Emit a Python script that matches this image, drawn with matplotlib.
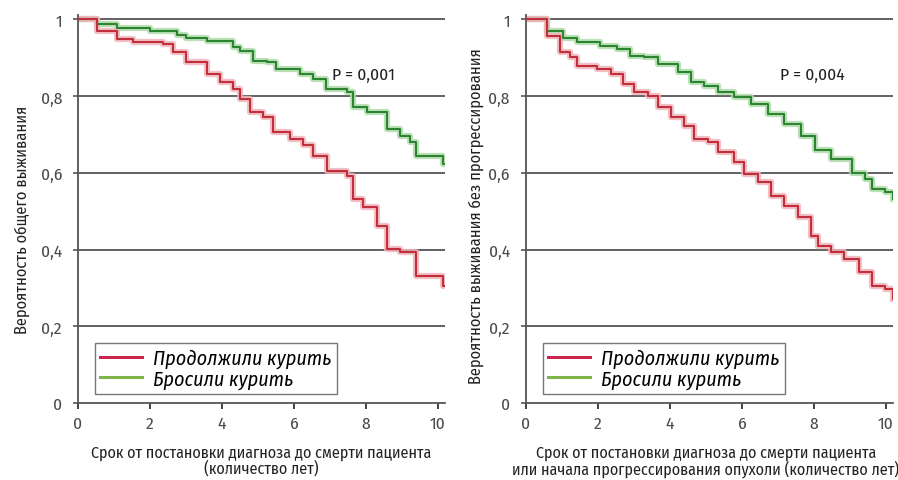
import matplotlib
matplotlib.use("Agg")
import matplotlib.pyplot as plt
from matplotlib import font_manager as fm

names = {f.name for f in fm.fontManager.ttflist}
FONT = "Fira Sans Condensed" if "Fira Sans Condensed" in names else "DejaVu Sans"
FAM = [FONT, "DejaVu Sans"]
plt.rcParams['font.family'] = FAM

# ---------------- data ----------------
x_ticks = [0, 2, 4, 6, 8, 10]
y_ticks = [0, 0.2, 0.4, 0.6, 0.8, 1.0]
y_ticklabels = ["0", "0,2", "0,4", "0,6", "0,8", "1"]
legend_labels = ["Продолжили курить", "Бросили курить"]

# Panel 1: overall survival
os_cont_t = [0, 0.53, 1.08, 1.53, 2.36, 2.65, 3.0, 3.58, 3.94, 4.3, 4.5, 4.78, 5.14, 5.42, 5.89,
             6.25, 6.53, 6.92, 7.47, 7.64, 7.92, 8.3, 8.58, 8.94, 9.4, 10.15, 10.2]
os_cont_s = [1.0, 0.969, 0.948, 0.94, 0.935, 0.914, 0.888, 0.857, 0.836, 0.818, 0.792, 0.758, 0.745,
             0.706, 0.688, 0.674, 0.643, 0.604, 0.591, 0.531, 0.51, 0.461, 0.401, 0.393, 0.331, 0.305, 0.305]
os_quit_t = [0, 0.53, 1.08, 2.0, 2.75, 3.0, 3.58, 4.3, 4.5, 4.87, 5.25, 5.5, 6.17, 6.53, 6.9, 7.47,
             7.64, 8.03, 8.58, 8.94, 9.22, 9.4, 10.15, 10.2]
os_quit_s = [1.0, 0.987, 0.979, 0.969, 0.96, 0.953, 0.943, 0.927, 0.917, 0.891, 0.888, 0.870, 0.857,
             0.844, 0.818, 0.810, 0.773, 0.758, 0.714, 0.695, 0.680, 0.643, 0.622, 0.622]

# Panel 2: progression-free survival
pfs_cont_t = [0, 0.59, 0.95, 1.23, 1.42, 1.98, 2.35, 2.71, 2.99, 3.38, 3.66, 4.02, 4.39, 4.66, 5.06,
              5.34, 5.78, 6.06, 6.45, 6.82, 7.18, 7.57, 7.93, 8.13, 8.49, 8.85, 9.25, 9.61, 9.97, 10.2]
pfs_cont_s = [1.0, 0.956, 0.914, 0.901, 0.878, 0.87, 0.857, 0.831, 0.81, 0.8, 0.773, 0.747, 0.721,
              0.688, 0.680, 0.654, 0.628, 0.596, 0.575, 0.539, 0.513, 0.484, 0.435, 0.409, 0.393,
              0.375, 0.341, 0.305, 0.297, 0.271]
pfs_quit_t = [0, 0.59, 1.03, 1.42, 2.07, 2.54, 2.9, 3.27, 3.66, 4.22, 4.58, 4.94, 5.34, 5.78, 6.26,
              6.73, 7.18, 7.65, 8.02, 8.49, 9.05, 9.41, 9.61, 9.97, 10.2]
pfs_quit_s = [1.0, 0.969, 0.953, 0.94, 0.930, 0.922, 0.904, 0.901, 0.883, 0.862, 0.836, 0.826, 0.81,
              0.797, 0.779, 0.753, 0.727, 0.695, 0.661, 0.635, 0.60, 0.583, 0.557, 0.549, 0.531]

p_values = ["P = 0,001", "P = 0,004"]
y_labels = ["Вероятность общего выживания", "Вероятность выживания без прогрессирования"]
x_labels = ["Срок от постановки диагноза до смерти пациента\n(количество лет)",
            "Срок от постановки диагноза до смерти пациента\nили начала прогрессирования опухоли (количество лет)"]

# ---------------- style ----------------
RED, RED_HALO = "#c22e3a", "#f0b4ba"
GREEN, GREEN_HALO = "#2a8430", "#b0dbaa"
LEG_RED, LEG_GREEN = "#c8264a", "#7db54a"
GRID = "#555555"
TXT = "#4a4a4a"

fig = plt.figure(figsize=(8.98, 4.81), dpi=100)
ax1 = fig.add_axes([0.0869, 0.160, 0.4087, 0.807])
ax2 = fig.add_axes([0.5857, 0.160, 0.4087, 0.807])

panels = [
    (ax1, os_cont_t, os_cont_s, os_quit_t, os_quit_s, 0, (-0.153, 0.475), (0.5, -0.105)),
    (ax2, pfs_cont_t, pfs_cont_s, pfs_quit_t, pfs_quit_s, 1, (-0.136, 0.485), (0.49, -0.105)),
]

for ax, ct, cs, qt, qs, i, ylc, xlc in panels:
    ax.set_xlim(0, 10.2)
    ax.set_ylim(0, 1.012)
    for yv in y_ticks[1:]:
        ax.axhline(yv, color=GRID, lw=1.3, zorder=1)
    for t, s, c, h in [(qt, qs, GREEN, GREEN_HALO), (ct, cs, RED, RED_HALO)]:
        ax.plot(t, s, drawstyle="steps-post", color=h, lw=4.5, alpha=0.85, zorder=2)
        ax.plot(t, s, drawstyle="steps-post", color=c, lw=1.5, zorder=3)
    ax.spines["top"].set_visible(False)
    ax.spines["right"].set_visible(False)
    for sp in ("left", "bottom"):
        ax.spines[sp].set_color(GRID)
        ax.spines[sp].set_linewidth(1.3)
    ax.set_xticks(x_ticks)
    ax.set_yticks(y_ticks)
    ax.set_yticklabels(y_ticklabels)
    ax.tick_params(axis="x", direction="out", length=4.5, width=1.2, color="#222222",
                   labelsize=12.5, labelcolor=TXT, pad=4)
    ax.tick_params(axis="y", direction="out", length=3.6, width=1.2, color=GRID,
                   labelsize=12.5, labelcolor=TXT, pad=8)
    ax.set_ylabel(y_labels[i], fontsize=11.8, color="#222222", va="center")
    ax.yaxis.set_label_coords(*ylc)
    ax.set_xlabel(x_labels[i], fontsize=11.6, color="#222222", va="top", linespacing=1.0)
    ax.xaxis.set_label_coords(*xlc)
    ax.text(7.05, 0.857, p_values[i], fontsize=12.5, color="#222222", va="center", ha="left")
    h1, = ax.plot([], [], color=LEG_RED, lw=2.2)
    h2, = ax.plot([], [], color=LEG_GREEN, lw=2.2)
    leg = ax.legend([h1, h2], legend_labels, loc="lower left", bbox_to_anchor=(0.03, 0.008),
                    prop={"family": FAM, "style": "italic", "size": 14.5},
                    frameon=True, fancybox=False, edgecolor="#555555", handlelength=2.1,
                    handletextpad=0.55, borderpad=0.25, labelspacing=0.05, borderaxespad=0.3)
    leg.get_frame().set_linewidth(1.0)

fig.savefig("out.png", dpi=100)
